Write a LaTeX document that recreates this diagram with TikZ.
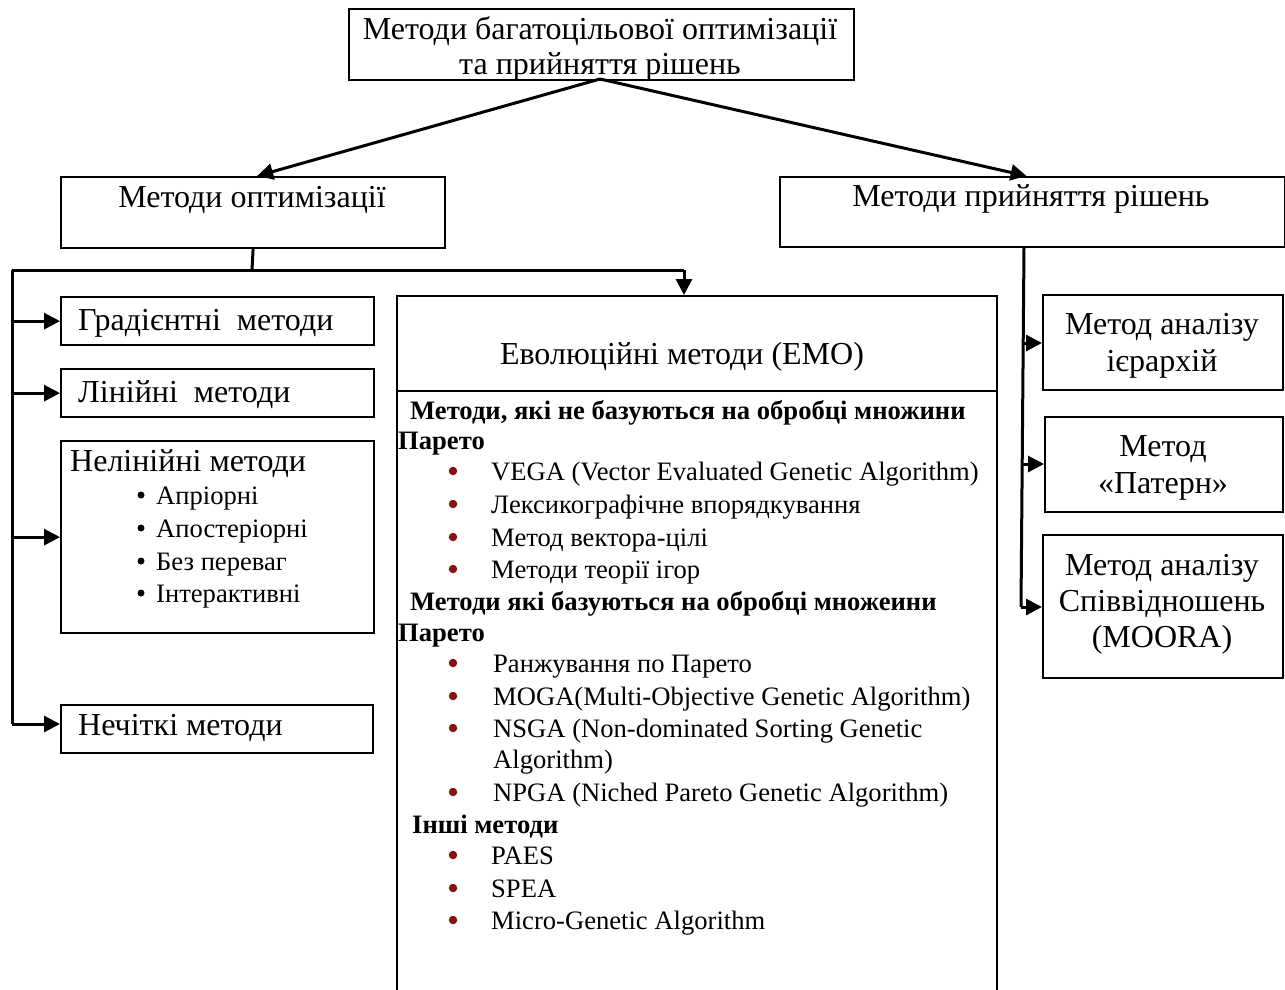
\documentclass[tikz,border=0pt]{standalone}
\usepackage{fontspec}
\setmainfont{Liberation Serif}
\usetikzlibrary{arrows.meta}
\definecolor{bul}{RGB}{128,22,22}
\newcommand\myfs{\fontsize{26.6}{33}\selectfont}
\newcommand\mybig{\fontsize{32}{37}\selectfont}
\tikzset{
  box/.style={draw, line width=2.2pt, inner sep=0, anchor=north west},
  conn/.style={line width=3pt},
  arr/.style={conn, -{Triangle[length=16pt,width=16pt]}},
  lbl/.style={anchor=base west, inner sep=0, font=\myfs},
  blbl/.style={anchor=base west, inner sep=0, font=\mybig},
  clbl/.style={anchor=base, inner sep=0, font=\mybig},
  hd/.style={anchor=base west, inner sep=0, font=\myfs\bfseries},
  rdot/.style={circle, fill=bul, inner sep=0, minimum size=8.5pt},
  bdot/.style={circle, fill=black, inner sep=0, minimum size=7pt},
}
\begin{document}
\begin{tikzpicture}[x=1pt,y=-1pt]
\useasboundingbox (0,0) rectangle (1285,989);
% boxes
\node[box, minimum width=505, minimum height=71] (top) at (348,8) {};
\node[box, minimum width=384, minimum height=71] (opt) at (60,176) {};
\node[box, minimum width=505, minimum height=70] (dec) at (779,176) {};
\node[box, minimum width=313, minimum height=48] (grad) at (60,296) {};
\node[box, minimum width=313, minimum height=48] (lin) at (60,368) {};
\node[box, minimum width=313, minimum height=192] (nl) at (60,440) {};
\node[box, minimum width=312, minimum height=48] (fuz) at (60,704) {};
\node[box, minimum width=600, minimum height=715] (emo) at (396,295) {};
\node[box, minimum width=240, minimum height=95] (ahp) at (1042,294) {};
\node[box, minimum width=238, minimum height=95] (pat) at (1044,416) {};
\node[box, minimum width=240, minimum height=143] (moo) at (1042,534) {};
\coordinate (dl) at (396,391);
\coordinate (dr) at (996,391);
\draw[line width=2.2pt] (dl) -- (dr);
% texts
\node[clbl] (t1) at (600,39) {Методи багатоцільової оптимізації};
\node[clbl] (t2) at (600,74) {та прийняття рішень};
\node[clbl] (t3) at (252,207) {Методи оптимізації};
\node[clbl] (t4) at (1031,206) {Методи прийняття рішень};
\node[blbl] (t5) at (78,330) {Градієнтні\ \ методи};
\node[blbl] (t6) at (78,402) {Лінійні\ \ методи};
\node[blbl] (t7) at (70,471) {Нелінійні методи};
\node[bdot] (b1) at (141,495) {};
\node[bdot] (b2) at (141,528) {};
\node[bdot] (b3) at (141,561) {};
\node[bdot] (b4) at (141,593) {};
\node[lbl] (n1) at (156,504) {Апріорні};
\node[lbl] (n2) at (156,537) {Апостеріорні};
\node[lbl] (n3) at (156,570) {Без переваг};
\node[lbl] (n4) at (156,602) {Інтерактивні};
\node[blbl] (t8) at (78,735) {Нечіткі методи};
\node[clbl] (t9) at (682,364) {Еволюційні методи (ЕМО)};
\node[hd] (h1) at (410,419) {Методи, які не базуються на обробці множини};
\node[hd] (h1b) at (398,449) {Парето};
\node[rdot] (r1) at (453,471) {};
\node[rdot] (r2) at (453,504) {};
\node[rdot] (r3) at (453,537) {};
\node[rdot] (r4) at (453,569) {};
\node[lbl] (e1) at (491,480) {VEGA (Vector Evaluated Genetic Algorithm)};
\node[lbl] (e2) at (491,513) {Лексикографічне впорядкування};
\node[lbl] (e3) at (491,546) {Метод вектора-цілі};
\node[lbl] (e4) at (491,578) {Методи теорії ігор};
\node[hd] (h2) at (410,610) {Методи які базуються на обробці множеини};
\node[hd] (h2b) at (398,641) {Парето};
\node[rdot] (r5) at (453,663) {};
\node[rdot] (r6) at (453,696) {};
\node[rdot] (r7) at (453,728) {};
\node[rdot] (r8) at (453,792) {};
\node[lbl] (e5) at (493,672) {Ранжування по Парето};
\node[lbl] (e6) at (493,705) {MOGA(Multi-Objective Genetic Algorithm)};
\node[lbl] (e7) at (493,737) {NSGA (Non-dominated Sorting Genetic};
\node[lbl] (e7b) at (493,768) {Algorithm)};
\node[lbl] (e8) at (493,801) {NPGA (Niched Pareto Genetic Algorithm)};
\node[hd] (h3) at (412,833) {Інші методи};
\node[rdot] (r9) at (453,855) {};
\node[rdot] (r10) at (453,888) {};
\node[rdot] (r11) at (453,920) {};
\node[lbl] (e9) at (491,864) {PAES};
\node[lbl] (e10) at (491,897) {SPEA};
\node[lbl] (e11) at (491,929) {Micro-Genetic Algorithm};
\node[clbl] (a1) at (1162,334) {Метод аналізу};
\node[clbl] (a2) at (1162,371) {ієрархій};
\node[clbl] (p1) at (1163,456) {Метод};
\node[clbl] (p2) at (1163,493) {«Патерн»};
\node[clbl] (m1) at (1162,575) {Метод аналізу};
\node[clbl] (m2) at (1162,611) {Співвідношень};
\node[clbl] (m3) at (1162,647) {(MOORA)};
% connectors
\coordinate (tp) at (600,79);
\draw[arr] (tp) -- ([xshift=4pt]opt.north);
\draw[arr] (tp) -- ([xshift=-6pt]dec.north);
\coordinate (j1) at (252,270);
\coordinate (lx) at (12,270);
\coordinate (rx) at (684,270);
\coordinate (lb) at (12,724);
\draw[conn] (opt.south) -- (j1);
\draw[conn] (lx) -- (rx);
\draw[arr] (rx) -- (emo.north -| rx);
\draw[conn] (lx) -- (lb);
\draw[arr] (grad.west -| lx) -- (grad.west);
\draw[arr] (lin.west -| lx) -- (lin.west);
\draw[arr] (nl.west -| lx) -- (nl.west);
\draw[arr] (lb) -- (fuz.west |- lb);
\coordinate (rt) at (1024,247);
\coordinate (rb) at (1021,607);
\draw[conn] (rt) -- (rb);
\coordinate (ra) at (1022,343);
\coordinate (rp) at (1022,464);
\draw[arr] (ra) -- (ahp.west |- ra);
\draw[arr] (rp) -- (pat.west |- rp);
\draw[arr] (rb) -- (moo.west |- rb);
\end{tikzpicture}
\end{document}
